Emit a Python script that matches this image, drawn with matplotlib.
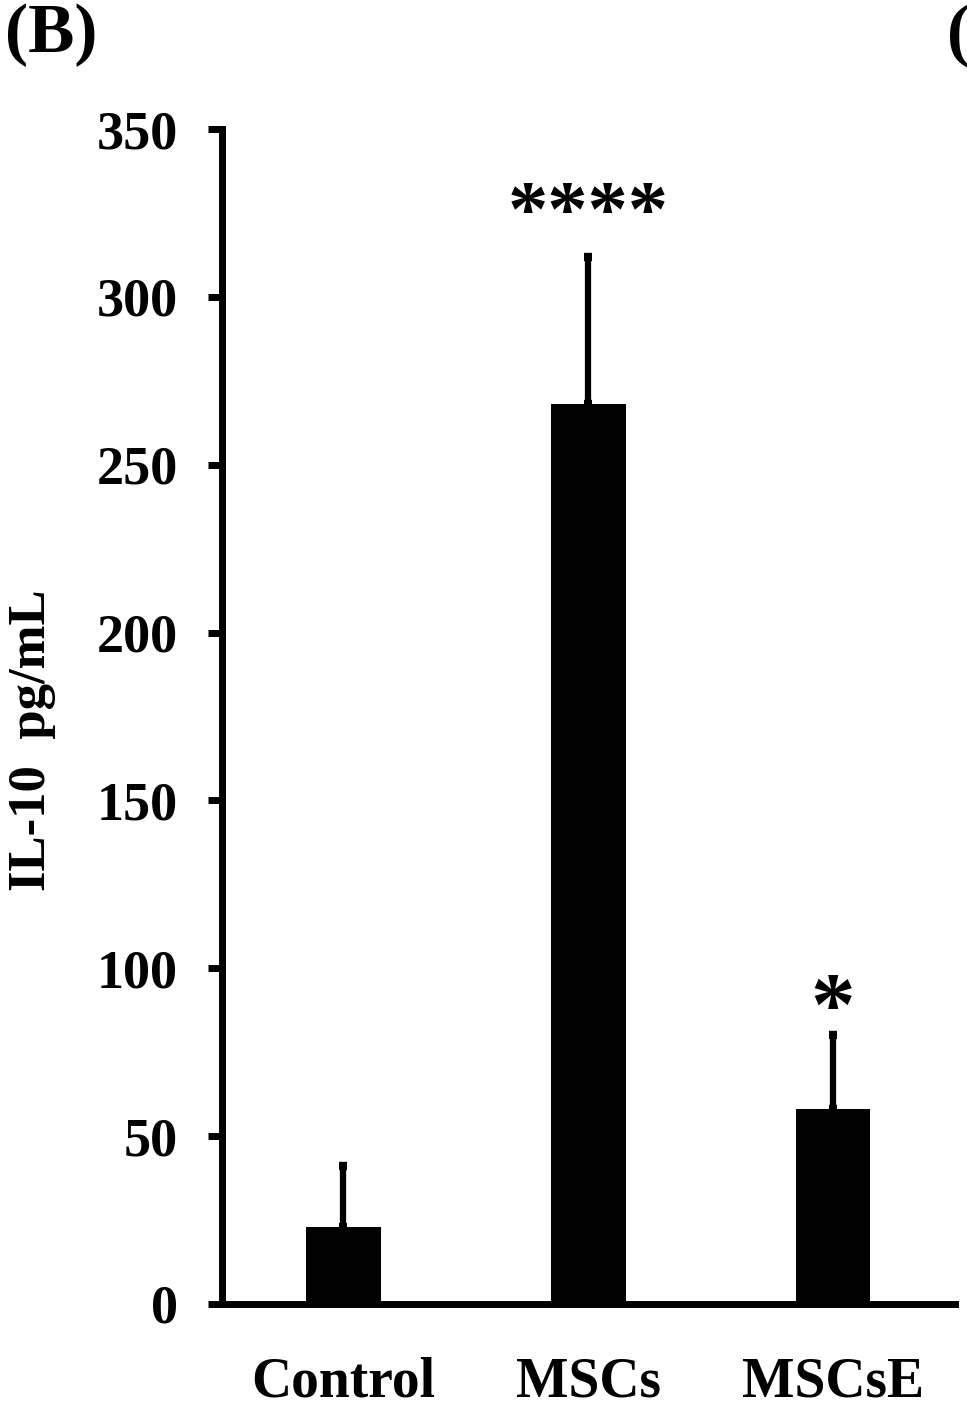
import numpy as np
import matplotlib.pyplot as plt

groups = ['Control', 'MSCs', 'MSCsE']
means = [23, 268, 58]
err_up = [18, 44, 22]
stars = ['', '****', '*']
yticks = [0, 50, 100, 150, 200, 250, 300, 350]

plt.rcParams['font.family'] = ['Liberation Serif', 'DejaVu Serif']
plt.rcParams['font.weight'] = 'bold'

fig = plt.figure(figsize=(9.67, 14.10), dpi=100)
ax = fig.add_axes([0.2296, 0.0752, 0.758, 0.8333])

xs = np.arange(len(groups))
ax.bar(xs, means, width=0.306, color='black')
ax.errorbar(xs, means, yerr=[np.zeros(3), err_up], fmt='none', ecolor='black',
            elinewidth=4.5, capsize=3, capthick=6)

for x, m, e, s in zip(xs, means, err_up, stars):
    if s:
        size = 58 if len(s) > 1 else 64
        off = 12 if len(s) > 1 else 7
        ax.text(x, m + e + off, s, ha='center', va='center', fontsize=size)

ax.set_xlim(-0.494, 2.498)
ax.set_ylim(0, 350)
ax.set_yticks(yticks)
ax.set_xticks(xs)
ax.set_xticklabels(groups, fontsize=40)
ax.tick_params(axis='y', length=10, width=5, labelsize=39, pad=22)
ax.tick_params(axis='x', length=0, pad=38)

for side in ['top', 'right']:
    ax.spines[side].set_visible(False)
ax.spines['left'].set_linewidth(5)
ax.spines['bottom'].set_linewidth(5)

ax.set_ylabel('IL-10  pg/mL', fontsize=38, fontweight='bold')
ax.yaxis.set_label_coords(-0.226, 0.48)

fig.text(0.005, 0.998, '(B)', ha='left', va='top', fontsize=50)
fig.text(0.979, 0.997, '(', ha='left', va='top', fontsize=50)

plt.savefig('out.png', dpi=100)
